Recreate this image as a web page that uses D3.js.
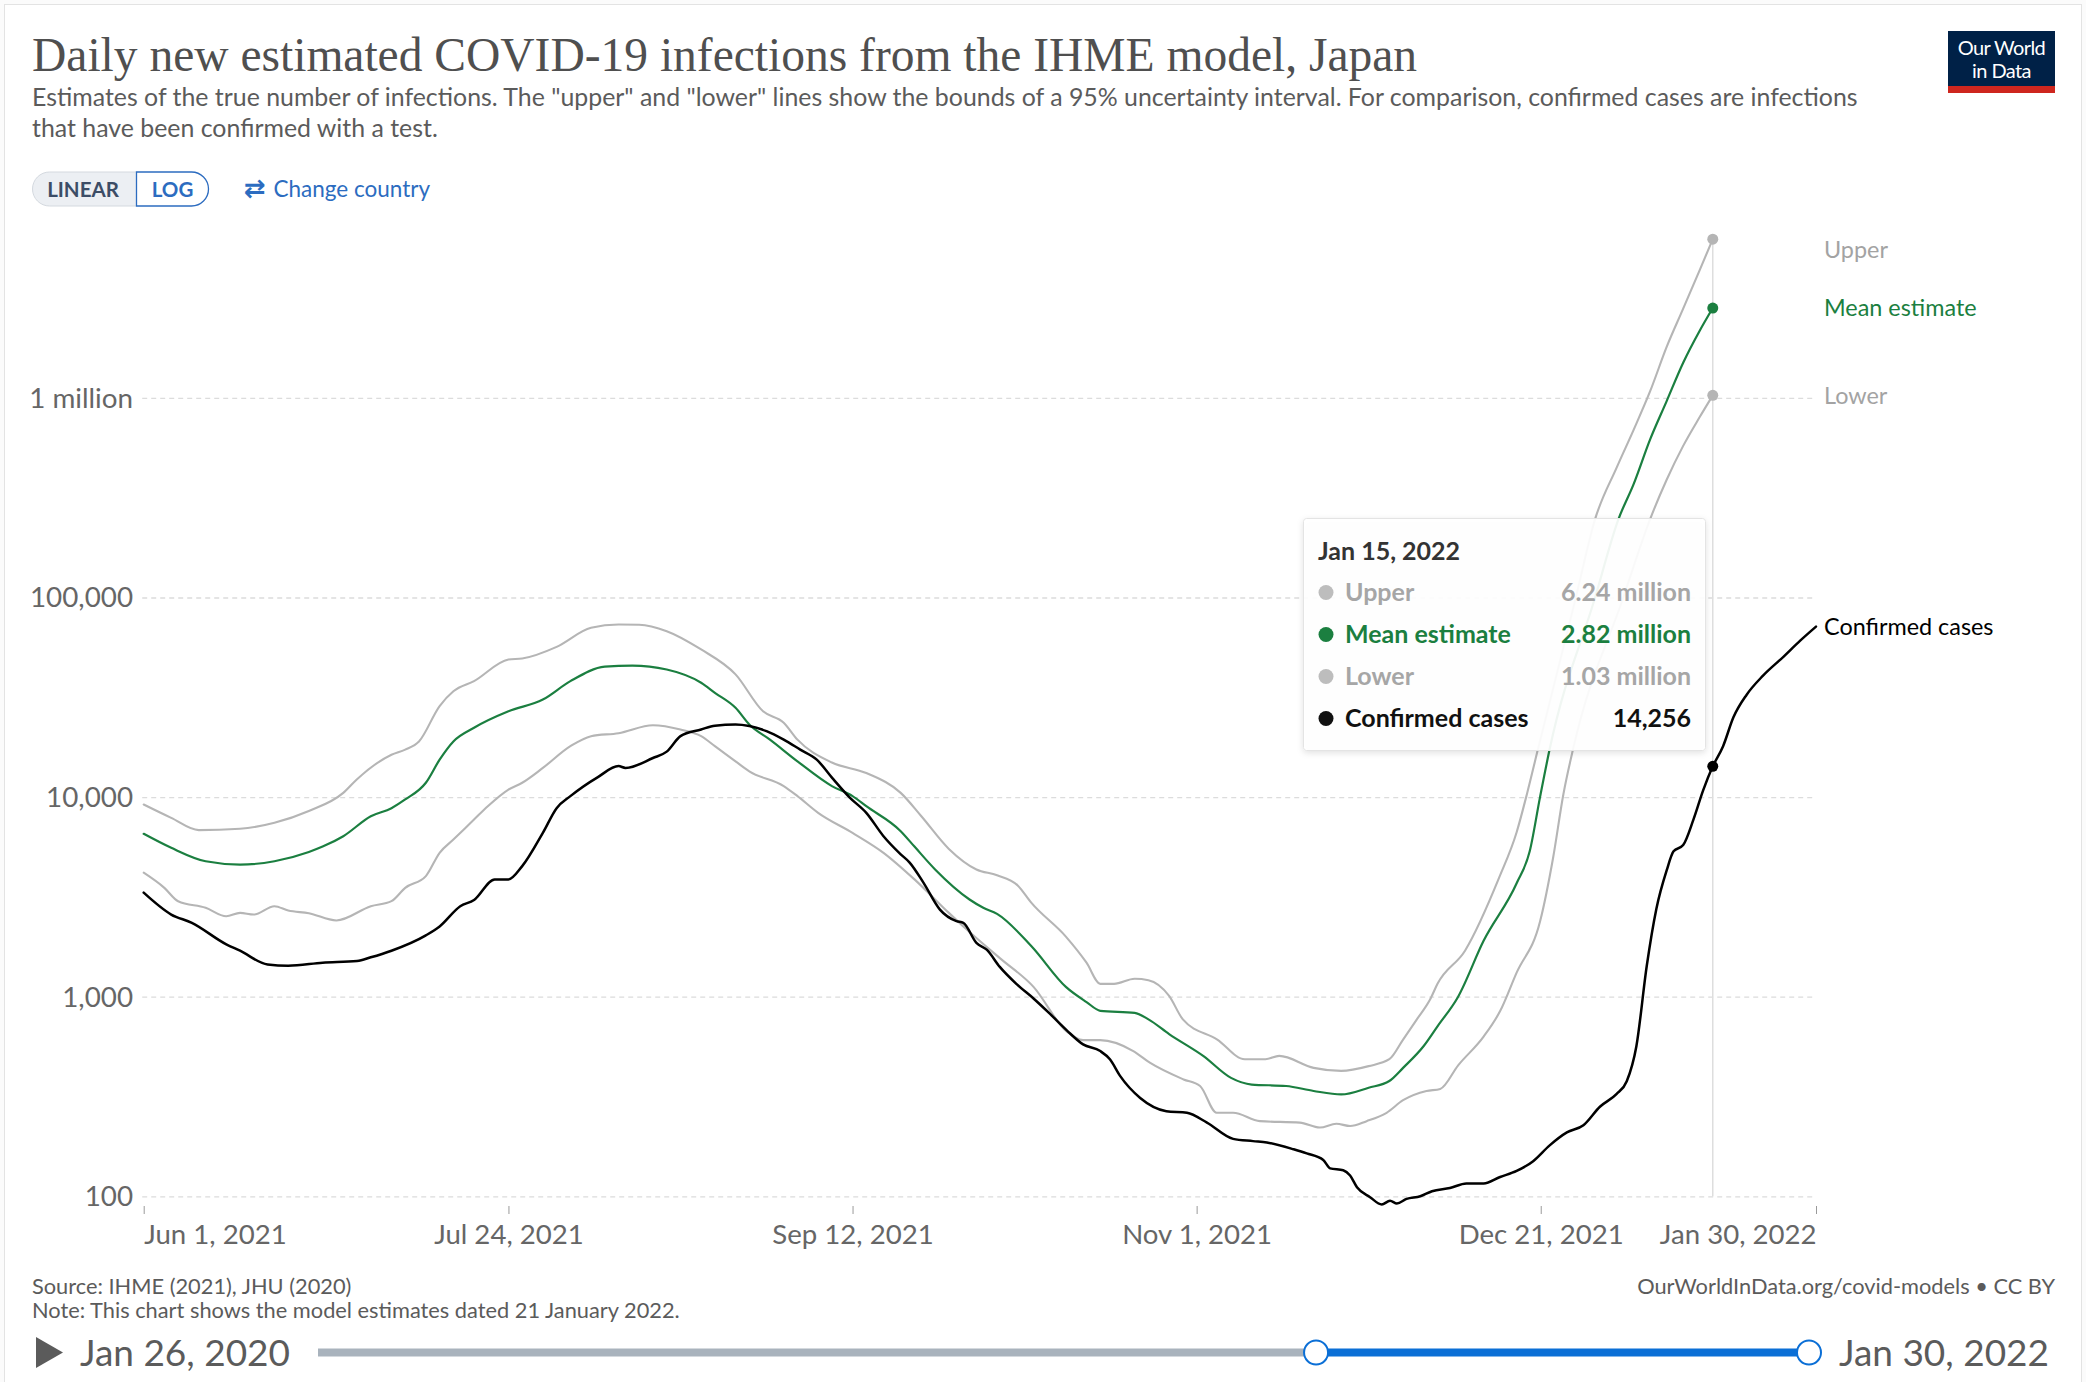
<!DOCTYPE html>
<html>
<head>
<meta charset="utf-8">
<script src="https://cdn.jsdelivr.net/npm/d3@7"></script>
<style>
  html, body { margin: 0; padding: 0; background: #fbfbfb; }
  svg { display: block; font-family: Lato, "Noto Sans", sans-serif; }
</style>
</head>
<body>
<svg id="chart" width="2086" height="1382"></svg>
<script>
// ---------------- DATA ----------------
const startDate = "2021-06-01";           // day 0 of the series below
const hoverDay = 228;                      // Jan 15, 2022 (tooltip date)
const xTickDates = ["2021-06-01", "2021-07-24", "2021-09-12", "2021-11-01", "2021-12-21", "2022-01-30"];
const yTickValues = [100, 1000, 10000, 100000, 1000000];
const yTickLabels = ["100", "1,000", "10,000", "100,000", "1 million"];
const seriesNames = ["Upper", "Mean estimate", "Lower", "Confirmed cases"];

// [days since startDate, daily infections]
const upperData = [[0,9180],[4,7870],[8,6830],[14,6940],[19,7440],[24,8520],[29,10500],[31,12300],[36,16300],[38,17300],[40,19000],[43,28600],[45,33900],[48,38100],[53,48900],[55,49500],[60,56600],[65,70500],[69,73200],[72,73000],[76,67800],[81,54900],[86,41200],[90,26900],[93,23600],[95,19400],[100,14900],[105,13200],[110,10500],[113,8020],[117,5500],[121,4340],[124,4060],[127,3610],[129,2950],[134,2000],[137,1480],[139,1160],[141,1160],[144,1230],[146,1210],[149,1010],[151,770],[156,610],[160,486],[163,486],[165,505],[170,440],[174,425],[178,449],[181,486],[183,610],[185,770],[187,980],[188,1160],[192,1700],[197,3980],[199.5,6670],[201,10370],[202.6,17400],[208.1,100000],[210.9,247000],[214,445000],[216.5,692000],[218.9,1080000],[221.3,1800000],[223.7,2800000],[226.1,4370000],[228,6240000]];

const meanData = [[0,6550],[4,5570],[9,4770],[14,4590],[19,4770],[24,5310],[26,5650],[29,6370],[33,8020],[36,8800],[38,9730],[41,11800],[43,15400],[45,19000],[48,22250],[53,26900],[58,30800],[62,38100],[67,45000],[71,45600],[76,43600],[81,37400],[83,33300],[86,28000],[88,23100],[91,19400],[95,15100],[100,11350],[103,10110],[105,9000],[110,6750],[112,5650],[115,4340],[120,3070],[122,2790],[124,2600],[129,1790],[134,1120],[137,940],[139,850],[144,830],[146,770],[149,650],[154,504],[158,392],[161,363],[166,357],[170,337],[174,324],[178,350],[181,378],[183,440],[186,566],[188,710],[191,1000],[194.7,1905],[199.5,3700],[201.4,5350],[202.9,10000],[204.3,17400],[210.9,100000],[214.3,247000],[216.5,370000],[218.9,620000],[221.3,964000],[223.7,1500000],[226.1,2170000],[228,2820000]];

const lowerData = [[0,4180],[3,3510],[5,3010],[9,2790],[12,2530],[14,2630],[16,2580],[19,2840],[21,2700],[24,2620],[28,2410],[33,2840],[36,3010],[38,3510],[41,4020],[43,5260],[45,6130],[48,7720],[50,9000],[53,10910],[55,11800],[58,14000],[62,18000],[65,20200],[69,20900],[74,22900],[78,21800],[81,20200],[83,18000],[86,15100],[88,13450],[93,11350],[95,10110],[98,8340],[103,6620],[107.5,5260],[112,3870],[117,2630],[119.6,2170],[124.4,1560],[129.3,1120],[134.1,670],[136.5,606],[139,606],[143.8,534],[146.2,467],[151.1,385],[153.5,357],[155.9,262],[158.3,262],[162.2,238],[168,234],[170.9,221],[173.3,231],[175.3,225],[177.7,238],[180.6,262],[183,303],[186.4,337],[188.4,345],[191,453],[194.7,631],[197.1,847],[199.5,1320],[202.9,2380],[204.8,4970],[206.3,10370],[207.7,17400],[215,100000],[218.9,247000],[221.3,389000],[223.7,575000],[226.1,802000],[228,1030000]];

const confirmedData = [[0,3320],[4,2580],[7,2345],[12,1830],[14,1700],[18,1450],[21,1430],[26,1480],[31,1510],[33,1575],[36,1700],[41,2030],[43,2250],[46,2840],[48,3050],[51,3870],[53,3870],[55,4510],[58,6620],[60,8800],[62,10110],[66,12600],[69,14300],[70,14000],[74,15700],[76,16900],[78,20200],[81,21800],[83,22800],[86,23100],[88,22700],[90.5,21400],[93,19400],[95.4,17300],[97.8,15400],[100.2,12300],[102.6,9940],[105,8340],[107.5,6370],[110,5170],[111.3,4700],[113.3,3730],[115.7,2730],[118.1,2390],[119.1,2345],[121,1860],[122.5,1720],[124.4,1410],[126.8,1160],[129.3,980],[131.7,820],[134.1,680],[136.5,577],[139,534],[140.4,486],[141.9,400],[144.8,311],[148.6,267],[151.6,262],[154.5,234],[158.3,194],[161.2,189],[163.2,186],[167.1,172],[169,164],[171.4,152],[172.4,138],[174.3,135],[175.3,127],[176.3,111],[178.2,99],[179.9,91],[181.1,95],[182.1,92],[183.5,97],[185.5,100],[187.2,106],[189.8,110],[192.2,116],[194.7,116],[197.1,125],[199.5,134],[201.9,150],[204.3,180],[206.8,209],[209.2,227],[211.6,281],[214,325],[215.5,377],[216.9,565],[218.4,1420],[219.8,2750],[221.3,4290],[222.3,5350],[223.7,5750],[225.2,7730],[226.6,10800],[228,14256],[229.5,18000],[231,25100],[232.9,32500],[235.3,40600],[238.3,50600],[240.7,60800],[243,71500]];

// ---------------- STYLE / LAYOUT ----------------
const plot = { left: 143.7, right: 1816, yAt100: 1196.3, yAt1M: 397.9 };
const colors = {
  upper: "#b5b5b5", mean: "#1b7f40", lower: "#b5b5b5", confirmed: "#000000",
  upperText: "#a3a3a3", grid: "#dcdcdc", axisText: "#666666", text: "#5b5b5b"
};

const svg = d3.select("#chart");
const dayMs = 864e5;
const parse = d3.utcParse("%Y-%m-%d");
const t0 = parse(startDate);
const toDate = d => new Date(t0.getTime() + d * dayMs);

const x = d3.scaleUtc()
  .domain([t0, parse(xTickDates[xTickDates.length - 1])])
  .range([plot.left, plot.right]);
const y = d3.scaleLog()
  .domain([100, 1000000])
  .range([plot.yAt100, plot.yAt1M]);

// frame
svg.append("rect").attr("x", 4.5).attr("y", 4.5).attr("width", 2077).attr("height", 1420)
  .attr("fill", "#ffffff").attr("stroke", "#e3e3e3");

function fitWidth(sel, target) {
  const w = sel.node().getComputedTextLength();
  const fs = parseFloat(sel.attr("font-size"));
  sel.attr("font-size", (fs * target / w).toFixed(2));
  return fs * target / w;
}

// ---------------- HEADER ----------------
const title = svg.append("text")
  .attr("x", 32).attr("y", 71)
  .attr("font-family", "'Liberation Serif', 'DejaVu Serif', serif")
  .attr("font-size", 46).attr("fill", "#4f4f4f")
  .text("Daily new estimated COVID-19 infections from the IHME model, Japan");
fitWidth(title, 1385);

const sub1 = svg.append("text").attr("x", 32).attr("y", 106)
  .attr("font-size", 21).attr("fill", colors.text)
  .text("Estimates of the true number of infections. The \"upper\" and \"lower\" lines show the bounds of a 95% uncertainty interval. For comparison, confirmed cases are infections");
const subSize = fitWidth(sub1, 1826);
svg.append("text").attr("x", 32).attr("y", 137)
  .attr("font-size", subSize).attr("fill", colors.text)
  .text("that have been confirmed with a test.");

// LINEAR / LOG toggle
const tg = svg.append("g");
tg.append("path")
  .attr("d", "M136.5,172 H49.5 A17,17 0 0 0 49.5,206 H136.5 Z")
  .attr("fill", "#eceff3").attr("stroke", "#d4d9df");
tg.append("path")
  .attr("d", "M136.5,172 H191.5 A17,17 0 0 1 191.5,206 H136.5 Z")
  .attr("fill", "#ffffff").attr("stroke", "#2c6cc0").attr("stroke-width", 1.3);
tg.append("text").attr("x", 83).attr("y", 196.5).attr("text-anchor", "middle")
  .attr("font-size", 20.5).attr("font-weight", 700).attr("fill", "#3c4d66").text("LINEAR");
tg.append("text").attr("x", 172.5).attr("y", 196.5).attr("text-anchor", "middle")
  .attr("font-size", 20.5).attr("font-weight", 700).attr("fill", "#2c6cc0").text("LOG");
svg.append("text").attr("x", 244).attr("y", 197)
  .attr("font-size", 26).attr("font-weight", 700).attr("fill", "#2c6cc0")
  .attr("font-family", "'DejaVu Sans', sans-serif").text("⇄");
svg.append("text").attr("x", 273.5).attr("y", 196.5)
  .attr("font-size", 22.5).attr("fill", "#2c6cc0").text("Change country");

// logo
const logo = svg.append("g");
logo.append("rect").attr("x", 1948).attr("y", 31).attr("width", 107).attr("height", 62).attr("fill", "#002147");
logo.append("rect").attr("x", 1948).attr("y", 86).attr("width", 107).attr("height", 7).attr("fill", "#ce261e");
logo.append("text").attr("x", 2001.5).attr("y", 55).attr("text-anchor", "middle")
  .attr("font-size", 20).attr("fill", "#ffffff").attr("letter-spacing", -0.6).text("Our World");
logo.append("text").attr("x", 2001.5).attr("y", 78).attr("text-anchor", "middle")
  .attr("font-size", 20).attr("fill", "#ffffff").attr("letter-spacing", -0.6).text("in Data");

// ---------------- AXES ----------------
const yTickFmt = d => yTickLabels[yTickValues.indexOf(d)];
const yAxis = d3.axisLeft(y).tickValues(yTickValues).tickFormat(yTickFmt)
  .tickSize(-(plot.right - plot.left)).tickPadding(10);
const gy = svg.append("g").attr("transform", `translate(${plot.left - 1.5},0)`).call(yAxis);
gy.select(".domain").remove();
gy.selectAll(".tick line").attr("stroke", colors.grid).attr("stroke-dasharray", "5,4").attr("stroke-width", 1.3);
gy.selectAll(".tick text").attr("font-size", 27.8).attr("fill", colors.axisText)
  .attr("font-family", "Lato, sans-serif").attr("x", 133 - plot.left + 1.5).attr("dy", "0.34em");

const xFmt = d3.utcFormat("%b %-d, %Y");
const xAxis = d3.axisBottom(x).tickValues(xTickDates.map(parse)).tickFormat(xFmt)
  .tickSize(8).tickPadding(10);
const gx = svg.append("g").attr("transform", "translate(0,1206)").call(xAxis);
gx.select(".domain").remove();
gx.selectAll(".tick line").attr("stroke", "#9a9a9a");
gx.selectAll(".tick text").attr("font-size", 27.6).attr("fill", colors.axisText)
  .attr("font-family", "Lato, sans-serif")
  .attr("text-anchor", (d, i) => i === 0 ? "start" : (i === xTickDates.length - 1 ? "end" : "middle"));

// hover line
const xh = x(toDate(hoverDay));
svg.append("line").attr("x1", xh).attr("x2", xh)
  .attr("y1", y(upperData[upperData.length - 1][1])).attr("y2", y(100))
  .attr("stroke", "#dedede").attr("stroke-width", 1.5);

// ---------------- LINES ----------------
const line = d3.line()
  .x(d => x(toDate(d[0])))
  .y(d => y(d[1]))
  .curve(d3.curveMonotoneX);

const series = [
  { name: seriesNames[0], data: upperData, color: colors.upper, text: colors.upperText, w: 2.1 },
  { name: seriesNames[2], data: lowerData, color: colors.lower, text: colors.upperText, w: 2.1 },
  { name: seriesNames[1], data: meanData, color: colors.mean, text: colors.mean, w: 2.2 },
  { name: seriesNames[3], data: confirmedData, color: colors.confirmed, text: "#000", w: 2.5 }
];
series.forEach(s => {
  svg.append("path").datum(s.data).attr("d", line)
    .attr("fill", "none").attr("stroke", s.color).attr("stroke-width", s.w)
    .attr("stroke-linejoin", "round").attr("stroke-linecap", "round");
});

// hover dots
const valueAt = (data, day) => data.find(d => d[0] === day)[1];
series.forEach(s => {
  svg.append("circle").attr("cx", xh).attr("cy", y(valueAt(s.data, hoverDay)))
    .attr("r", 5.5).attr("fill", s.color);
});

// end labels
const yTop = y(upperData[upperData.length - 1][1]);
series.forEach(s => {
  const last = s.data[s.data.length - 1];
  const ly = Math.max(y(last[1]), yTop + 11);
  svg.append("text").attr("x", 1824).attr("y", ly).attr("dy", "0.35em")
    .attr("font-size", 23.4).attr("fill", s.text).text(s.name);
});

// ---------------- TOOLTIP ----------------
const defs = svg.append("defs");
const f = defs.append("filter").attr("id", "shadow").attr("x", "-10%").attr("y", "-10%").attr("width", "120%").attr("height", "130%");
f.append("feDropShadow").attr("dx", 0).attr("dy", 2).attr("stdDeviation", 3).attr("flood-color", "#000").attr("flood-opacity", 0.12);

const tt = svg.append("g");
tt.append("rect").attr("x", 1303.5).attr("y", 518.5).attr("width", 402).attr("height", 232).attr("rx", 3)
  .attr("fill", "#ffffff").attr("fill-opacity", 0.93).attr("stroke", "#e4e4e4").attr("filter", "url(#shadow)");
tt.append("text").attr("x", 1318).attr("y", 559.5).attr("font-size", 25).attr("font-weight", 700)
  .attr("fill", "#333").text(d3.utcFormat("%b %-d, %Y")(toDate(hoverDay)));
const fmtVal = v => v >= 1e6 ? (v / 1e6).toFixed(2) + " million" : d3.format(",")(v);
series.slice().sort((a, b) => seriesNames.indexOf(a.name) - seriesNames.indexOf(b.name))
  .forEach((s, i) => {
    const ry = 601 + i * 42;
    const c = s.name === "Confirmed cases" ? "#111" : (s.name === "Mean estimate" ? colors.mean : "#a6a6a6");
    tt.append("circle").attr("cx", 1326).attr("cy", ry - 8.5).attr("r", 7.5).attr("fill", c === "#a6a6a6" ? "#bdbdbd" : c);
    tt.append("text").attr("x", 1345).attr("y", ry).attr("font-size", 25).attr("font-weight", 700)
      .attr("fill", c).text(s.name);
    tt.append("text").attr("x", 1691).attr("y", ry).attr("text-anchor", "end").attr("font-size", 25)
      .attr("font-weight", 700).attr("fill", c).text(fmtVal(valueAt(s.data, hoverDay)));
  });

// ---------------- FOOTER ----------------
svg.append("text").attr("x", 32).attr("y", 1294).attr("font-size", 21.8).attr("fill", colors.text)
  .text("Source: IHME (2021), JHU (2020)");
svg.append("text").attr("x", 32).attr("y", 1318).attr("font-size", 21.8).attr("fill", colors.text)
  .text("Note: This chart shows the model estimates dated 21 January 2022.");
svg.append("text").attr("x", 2055).attr("y", 1294).attr("text-anchor", "end").attr("font-size", 21.8)
  .attr("fill", colors.text).text("OurWorldInData.org/covid-models • CC BY");

// timeline
const timelineStart = "2020-01-26";
const tl = d3.scaleUtc().domain([parse(timelineStart), parse(xTickDates[xTickDates.length - 1])]).range([318, 1809]);
svg.append("path").attr("d", "M36,1337 L63,1352.5 L36,1368 Z").attr("fill", "#5b5b5b");
svg.append("text").attr("x", 80).attr("y", 1366).attr("font-size", 37).attr("fill", colors.text)
  .text(d3.utcFormat("%b %-d, %Y")(parse(timelineStart)));
svg.append("line").attr("x1", tl.range()[0]).attr("x2", tl(t0)).attr("y1", 1352.5).attr("y2", 1352.5)
  .attr("stroke", "#a9b3bd").attr("stroke-width", 8);
svg.append("line").attr("x1", tl(t0)).attr("x2", tl.range()[1]).attr("y1", 1352.5).attr("y2", 1352.5)
  .attr("stroke", "#0b6fd6").attr("stroke-width", 8);
[t0, tl.domain()[1]].forEach(d => {
  svg.append("circle").attr("cx", tl(d)).attr("cy", 1352.5).attr("r", 12)
    .attr("fill", "#fff").attr("stroke", "#0b6fd6").attr("stroke-width", 2);
});
svg.append("text").attr("x", 1839).attr("y", 1366).attr("font-size", 37).attr("fill", colors.text)
  .text(d3.utcFormat("%b %-d, %Y")(tl.domain()[1]));
</script>
</body>
</html>
